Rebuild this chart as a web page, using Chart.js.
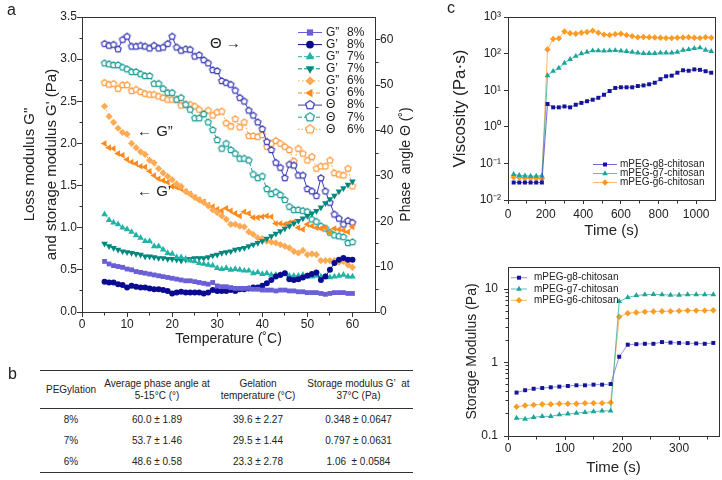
<!DOCTYPE html>
<html>
<head>
<meta charset="utf-8">
<script src="https://cdn.jsdelivr.net/npm/chart.js@4.4.1/dist/chart.umd.min.js"></script>
<style>
  html, body { margin: 0; padding: 0; background: #fff; }
  #page { position: relative; width: 722px; height: 480px; overflow: hidden;
          font-family: "Liberation Sans", Arial, sans-serif; color: #222; }
  #page canvas { position: absolute; }
  .tag { position: absolute; font-size: 16px; line-height: 16px; }
  #tbl { position: absolute; left: 40px; top: 370px; width: 373px;
         border-collapse: collapse; font-size: 10px; }
  #tbl th { font-weight: normal; height: 37px; line-height: 12px; padding: 0;
            border-top: 1.5px solid #333; border-bottom: 1px solid #333; }
  #tbl td { height: 21px; padding: 0; text-align: center; }
  #tbl tr:last-child td { border-bottom: 1.5px solid #333; }
</style>
</head>
<body>
<div id="page">
  <canvas id="chartA" width="440" height="352" style="left:0;top:0"></canvas>
  <canvas id="chartVisc" width="282" height="240" style="left:440px;top:0"></canvas>
  <canvas id="chartMod" width="282" height="240" style="left:440px;top:240px"></canvas>
  <div class="tag" style="left:7px;top:2px">a</div>
  <div class="tag" style="left:8px;top:366px">b</div>
  <div class="tag" style="left:447px;top:0">c</div>
  <table id="tbl"></table>
</div>
<script>
// ---- panel a: temperature sweep ----
var tempC = [5, 6, 7, 8, 9, 10, 11, 12, 13, 14, 15, 16, 17, 18, 19, 20, 21, 22, 23, 24,
  25, 26, 27, 28, 29, 30, 31, 32, 33, 34, 35, 36, 37, 38, 39, 40, 41, 42, 43, 44,
  45, 46, 47, 48, 49, 50, 51, 52, 53, 54, 55, 56, 57, 58, 59, 60];

var gLoss8 = [0.60, 0.57, 0.55, 0.54, 0.53, 0.51, 0.50, 0.48, 0.47, 0.46, 0.45, 0.44, 0.43, 0.42, 0.41, 0.40, 0.39, 0.38, 0.37, 0.37,
  0.36, 0.35, 0.34, 0.33, 0.35, 0.31, 0.30, 0.30, 0.29, 0.28, 0.28, 0.28, 0.28, 0.27, 0.27, 0.26, 0.26, 0.26, 0.25, 0.26,
  0.26, 0.25, 0.25, 0.24, 0.24, 0.23, 0.23, 0.23, 0.22, 0.21, 0.22, 0.23, 0.23, 0.23, 0.22, 0.22];
var gStor8 = [0.36, 0.35, 0.35, 0.33, 0.32, 0.29, 0.31, 0.30, 0.29, 0.29, 0.28, 0.27, 0.27, 0.26, 0.25, 0.22, 0.23, 0.24, 0.23, 0.23,
  0.23, 0.23, 0.22, 0.23, 0.26, 0.25, 0.25, 0.25, 0.26, 0.25, 0.27, 0.27, 0.28, 0.29, 0.29, 0.31, 0.34, 0.38, 0.42, 0.44,
  0.46, 0.39, 0.38, 0.39, 0.41, 0.43, 0.45, 0.47, 0.38, 0.42, 0.50, 0.58, 0.62, 0.64, 0.62, 0.62];
var gLoss7 = [1.16, 1.09, 1.06, 1.04, 1.00, 0.98, 0.95, 0.91, 0.88, 0.84, 0.84, 0.78, 0.78, 0.74, 0.70, 0.69, 0.65, 0.65, 0.63, 0.61,
  0.60, 0.58, 0.57, 0.56, 0.55, 0.52, 0.51, 0.52, 0.50, 0.51, 0.50, 0.49, 0.49, 0.46, 0.47, 0.45, 0.46, 0.44, 0.44, 0.44,
  0.45, 0.43, 0.43, 0.43, 0.44, 0.43, 0.42, 0.43, 0.42, 0.42, 0.41, 0.42, 0.43, 0.44, 0.42, 0.42];
var gStor7 = [0.81, 0.78, 0.76, 0.74, 0.72, 0.71, 0.70, 0.69, 0.68, 0.66, 0.66, 0.65, 0.64, 0.64, 0.63, 0.63, 0.62, 0.61, 0.62, 0.63,
  0.64, 0.64, 0.64, 0.65, 0.67, 0.68, 0.70, 0.71, 0.72, 0.74, 0.75, 0.76, 0.78, 0.80, 0.82, 0.84, 0.87, 0.90, 0.93, 0.96,
  0.99, 1.02, 1.05, 1.08, 1.11, 1.14, 1.17, 1.20, 1.24, 1.29, 1.34, 1.38, 1.43, 1.47, 1.51, 1.55];
var gLoss6 = [2.44, 2.32, 2.25, 2.18, 2.13, 2.11, 2.00, 1.95, 1.90, 1.87, 1.80, 1.77, 1.70, 1.65, 1.61, 1.57, 1.52, 1.49, 1.43, 1.40,
  1.36, 1.33, 1.30, 1.26, 1.21, 1.18, 1.14, 1.10, 1.04, 1.04, 1.02, 1.01, 0.95, 0.92, 0.88, 0.87, 0.84, 0.83, 0.82, 0.80,
  0.78, 0.76, 0.72, 0.70, 0.73, 0.68, 0.69, 0.68, 0.61, 0.61, 0.61, 0.61, 0.59, 0.60, 0.56, 0.53];
var gStor6 = [2.00, 1.95, 1.94, 1.88, 1.86, 1.81, 1.78, 1.76, 1.73, 1.72, 1.67, 1.62, 1.58, 1.56, 1.54, 1.49, 1.48, 1.46, 1.43, 1.40,
  1.36, 1.33, 1.31, 1.27, 1.25, 1.22, 1.20, 1.23, 1.20, 1.17, 1.14, 1.19, 1.17, 1.12, 1.12, 1.13, 1.14, 1.13, 1.05, 1.05,
  1.04, 1.06, 1.07, 1.00, 0.98, 1.04, 1.02, 1.00, 0.99, 1.00, 0.94, 0.99, 0.98, 0.97, 0.95, 1.01];

var phase8 = [59.1, 58.7, 58.9, 57.9, 60.0, 60.7, 58.5, 58.5, 58.7, 58.5, 58.1, 58.7, 58.1, 58.3, 59.1, 60.7, 58.3, 57.6, 57.9, 57.8,
  56.3, 56.6, 55.5, 54.8, 53.3, 53.1, 50.9, 50.5, 50.1, 48.8, 47.2, 46.4, 44.4, 43.3, 41.8, 40.3, 37.5, 35.7, 32.9, 31.8,
  29.5, 32.5, 32.3, 30.1, 30.1, 27.1, 26.6, 25.6, 29.5, 26.6, 24.1, 21.5, 20.6, 19.3, 20.1, 19.7];
var phase7 = [54.8, 54.6, 54.4, 54.4, 53.9, 53.5, 52.9, 52.9, 52.4, 52.0, 52.0, 50.3, 50.3, 49.2, 48.3, 48.3, 46.8, 47.2, 45.7, 44.6,
  42.7, 42.7, 43.6, 41.8, 40.1, 37.9, 36.0, 37.1, 35.7, 34.9, 33.8, 33.8, 33.4, 30.3, 29.5, 29.9, 27.1, 26.0, 26.4, 25.8,
  24.7, 23.2, 22.5, 22.5, 22.3, 22.1, 20.4, 19.9, 18.9, 18.4, 17.5, 16.9, 16.7, 16.5, 15.2, 15.4];
var phase6 = [50.5, 50.1, 50.3, 49.2, 50.0, 50.0, 48.7, 49.0, 48.5, 48.1, 47.9, 47.9, 47.5, 47.2, 46.8, 46.8, 46.8, 45.5, 45.7, 45.7,
  45.3, 44.6, 43.6, 44.4, 43.3, 44.0, 44.2, 41.6, 40.9, 42.5, 40.7, 41.8, 38.8, 38.8, 38.6, 39.0, 36.4, 37.1, 37.7, 37.1,
  36.4, 35.7, 33.2, 36.0, 34.9, 33.4, 34.2, 31.6, 32.1, 32.1, 33.4, 30.6, 30.3, 30.1, 31.6, 27.7];

var tempTicks = [0, 10, 20, 30, 40, 50, 60];
var modTicks = [0, 0.5, 1.0, 1.5, 2.0, 2.5, 3.0, 3.5];
var phaseTicks = [0, 10, 20, 30, 40, 50, 60];

// ---- panel b: table ----
var tableHead = ['PEGylation', 'Average phase angle at<br>5-15°C (°)', 'Gelation<br>temperature (°C)', 'Storage modulus G\u2019&nbsp; at<br>37°C (Pa)'];
var tableRows = [
  ['8%', '60.0 ± 1.89', '39.6 ± 2.27', '0.348 ± 0.0647'],
  ['7%', '53.7 ± 1.46', '29.5 ± 1.44', '0.797 ± 0.0631'],
  ['6%', '48.6 ± 0.58', '23.3 ± 2.78', '1.06 &nbsp;± 0.0584']
];

// ---- panel c top: viscosity vs time ----
var viscTime = [30, 60, 90, 120, 150, 180, 210, 240, 270, 300, 330, 360, 390, 420, 450, 480, 510, 540,
  570, 600, 630, 660, 690, 720, 750, 780, 810, 840, 870, 900, 930, 960, 990, 1020, 1050, 1080];
var viscG8 = [0.030, 0.030, 0.030, 0.030, 0.030, 0.030, 4.2, 3.4, 3.4, 3.6, 3.4, 4.0, 4.5, 5.0, 5.5, 6.2, 7.5, 9.5,
  11.5, 12, 12, 12, 13, 13.5, 14.5, 16, 20, 24, 25, 30, 35, 34, 37, 36, 33, 30];
var viscG7 = [0.050, 0.047, 0.046, 0.045, 0.045, 0.046, 25, 33, 40, 55, 70, 85, 100, 110, 120, 120, 118, 120,
  122, 118, 115, 110, 105, 102, 102, 102, 105, 105, 105, 110, 125, 130, 140, 145, 125, 115];
var viscG6 = [0.042, 0.041, 0.040, 0.040, 0.039, 0.038, 130, 250, 260, 400, 360, 350, 370, 390, 420, 370, 330, 320,
  340, 350, 320, 300, 280, 285, 280, 275, 270, 265, 265, 270, 275, 280, 270, 265, 280, 270];
var viscTimeTicks = [0, 200, 400, 600, 800, 1000];
var viscTicks = [0.01, 0.1, 1, 10, 100, 1000];
var viscTickLabels = ['10\u207B\u00B2', '10\u207B\u00B9', '10\u2070', '10\u00B9', '10\u00B2', '10\u00B3'];

// ---- panel c bottom: storage modulus vs time ----
var modTime = [15, 30, 45, 60, 75, 90, 105, 120, 135, 150, 165, 180, 195, 210, 225, 240, 255, 270, 285, 300, 315, 330, 345, 360];
var modG8 = [0.39, 0.42, 0.44, 0.45, 0.46, 0.47, 0.48, 0.49, 0.49, 0.50, 0.50, 0.51, 1.2, 1.75, 1.78, 1.80, 1.80, 1.90, 1.87, 1.85, 1.84, 1.82, 1.80, 1.85];
var modG7 = [0.175, 0.170, 0.180, 0.185, 0.185, 0.195, 0.200, 0.205, 0.210, 0.215, 0.220, 0.220, 6.8, 7.7, 8.2, 8.4, 8.5, 8.4, 8.3, 8.3, 8.4, 8.4, 8.4, 8.4];
var modG6 = [0.25, 0.26, 0.265, 0.27, 0.27, 0.275, 0.275, 0.275, 0.28, 0.28, 0.28, 0.285, 4.2, 4.7, 4.8, 4.9, 4.95, 5.0, 5.0, 5.05, 5.1, 5.1, 5.1, 5.15];
var modTimeTicks = [0, 100, 200, 300];
var modLogTicks = [0.1, 1, 10];
var modLogLabels = ['0.1', '1', '10'];

var FONT = '"Liberation Sans", Arial, sans-serif';
var AXIS = '#333';
var TEXT = '#222';

function pts(xs, ys) {
  return xs.map(function (x, i) { return { x: x, y: ys[i] }; });
}

function al(p) {
  return Math.round(p - 0.5) + 0.5;
}

// open pentagon marker drawn into a small canvas
function pentagon(color, r) {
  var c = document.createElement('canvas');
  var s = 2 * Math.ceil(r + 2);
  c.width = s;
  c.height = s;
  var g = c.getContext('2d');
  g.beginPath();
  for (var k = 0; k < 5; k++) {
    var a = -Math.PI / 2 + k * 2 * Math.PI / 5;
    var px = s / 2 + r * Math.cos(a);
    var py = s / 2 + r * Math.sin(a);
    if (k === 0) g.moveTo(px, py); else g.lineTo(px, py);
  }
  g.closePath();
  g.fillStyle = '#fff';
  g.fill();
  g.lineWidth = 1.2;
  g.strokeStyle = color;
  g.stroke();
  return c;
}

function axisCommon(extra) {
  var base = {
    grid: { display: true, drawOnChartArea: false, drawTicks: true, tickLength: 5, tickColor: AXIS, color: AXIS },
    border: { display: true, color: AXIS, width: 1 },
    ticks: {
      color: TEXT, font: { family: FONT, size: 12 }, padding: 0, maxRotation: 0, autoSkip: false,
      callback: function (v) { return String(v); }
    }
  };
  Object.keys(extra).forEach(function (k) {
    if (base[k] && typeof extra[k] === 'object' && !Array.isArray(extra[k])) {
      base[k] = Object.assign({}, base[k], extra[k]);
    } else {
      base[k] = extra[k];
    }
  });
  return base;
}

function fixTicks(list) {
  return function (scale) {
    scale.ticks = list.map(function (v) { return { value: v }; });
  };
}

// frame, minor ticks, notes, side title and legend
var decor = {
  id: 'decor',
  afterDraw: function (chart, args, o) {
    var ctx = chart.ctx;
    var a = chart.chartArea;
    ctx.save();
    ctx.strokeStyle = AXIS;
    ctx.lineWidth = 1;
    var l = al(a.left), t = al(a.top), r = al(a.right), b = al(a.bottom);
    ctx.strokeRect(l, t, r - l, b - t);

    (o.minor || []).forEach(function (m) {
      var s = chart.scales[m.axis];
      m.values.forEach(function (v) {
        var p = al(s.getPixelForValue(v));
        ctx.beginPath();
        if (s.isHorizontal()) {
          ctx.moveTo(p, b); ctx.lineTo(p, b + 3);
        } else if (s.position === 'left') {
          ctx.moveTo(l, p); ctx.lineTo(l - 3, p);
        } else {
          ctx.moveTo(r, p); ctx.lineTo(r + 3, p);
        }
        ctx.stroke();
      });
    });

    ctx.fillStyle = TEXT;
    ctx.textBaseline = 'middle';
    (o.notes || []).forEach(function (n) {
      ctx.font = n.size + 'px ' + FONT;
      ctx.textAlign = 'left';
      ctx.fillText(n.text, chart.scales.x.getPixelForValue(n.x), chart.scales[n.axis].getPixelForValue(n.y));
    });

    if (o.sideTitle) {
      ctx.save();
      ctx.font = o.sideTitle.size + 'px ' + FONT;
      ctx.textAlign = 'center';
      ctx.translate(o.sideTitle.x, (a.top + a.bottom) / 2);
      ctx.rotate(-Math.PI / 2);
      ctx.fillText(o.sideTitle.text, 0, 0);
      ctx.restore();
    }

    if (o.legend) {
      var L = o.legend;
      chart.data.datasets.forEach(function (ds, i) {
        var y = L.y + i * L.dy;
        ctx.save();
        ctx.strokeStyle = ds.borderColor;
        ctx.lineWidth = ds.borderWidth;
        ctx.setLineDash(ds.borderDash || []);
        ctx.beginPath();
        ctx.moveTo(L.x, y);
        ctx.lineTo(L.x + L.line, y);
        ctx.stroke();
        ctx.setLineDash([]);
        ctx.fillStyle = ds.pointBackgroundColor;
        ctx.strokeStyle = ds.pointBorderColor;
        ctx.lineWidth = ds.pointBorderWidth;
        Chart.helpers.drawPoint(ctx, {
          pointStyle: ds.legendStyle || ds.pointStyle,
          rotation: ds.pointRotation || 0,
          radius: ds.pointRadius * L.scale,
          borderWidth: ds.pointBorderWidth
        }, L.x + L.line / 2, y);
        ctx.restore();
        ctx.fillStyle = TEXT;
        ctx.font = L.size + 'px ' + FONT;
        ctx.textAlign = 'left';
        ctx.textBaseline = 'middle';
        if (L.split) {
          var parts = ds.label.split(' ');
          ctx.fillText(parts[0], L.x + L.line + L.gap, y);
          ctx.fillText(parts[1], L.x + L.line + L.gap + L.split, y);
        } else {
          ctx.fillText(ds.label, L.x + L.line + L.gap, y);
        }
      });
    }
    ctx.restore();
  }
};

function series(label, xs, ys, axis, color, lineColor, style, radius, extra) {
  var ds = {
    label: label,
    data: pts(xs, ys),
    yAxisID: axis,
    borderColor: lineColor,
    borderWidth: 1,
    pointStyle: style,
    pointRadius: radius,
    pointHoverRadius: radius,
    pointBackgroundColor: color,
    pointBorderColor: color,
    pointBorderWidth: 0,
    tension: 0,
    fill: false
  };
  return Object.assign(ds, extra || {});
}

function baseOptions(padding, plugins) {
  return {
    responsive: false,
    animation: false,
    devicePixelRatio: 1,
    events: [],
    layout: { padding: padding, autoPadding: false },
    plugins: Object.assign({ legend: { display: false }, tooltip: { enabled: false } }, plugins)
  };
}

function drawPanelA() {
  var c8 = '#6a5fd6', c8d = '#0b0b92', c7 = '#22b3a6', c7d = '#00877e', c6 = '#ffab55', c6d = '#ff8a1c';
  var t8 = '#3a3ab8', t7 = '#1d9c97', t6 = '#ff9a3c';
  var datasets = [
    series('G\u201D 8%', tempC, gLoss8, 'y', c8, c8, 'rect', 3.4),
    series('G\u2019 8%', tempC, gStor8, 'y', c8d, c8d, 'circle', 3),
    series('G\u201D 7%', tempC, gLoss7, 'y', c7, c7, 'triangle', 3.8, { borderDash: [4, 2] }),
    series('G\u2019 7%', tempC, gStor7, 'y', c7d, c7d, 'triangle', 3.8, { borderDash: [4, 2], pointRotation: 180 }),
    series('G\u201D 6%', tempC, gLoss6, 'y', c6, c6, 'rectRot', 3.6, { borderDash: [1.5, 2.5] }),
    series('G\u2019 6%', tempC, gStor6, 'y', c6d, c6d, 'triangle', 3.8, { borderDash: [4, 2, 1, 2], pointRotation: 270 }),
    series('\u0398 8%', tempC, phase8, 'y2', t8, t8, pentagon(t8, 3.3), 3, { legendStyle: pentagon(t8, 4.6) }),
    series('\u0398 7%', tempC, phase7, 'y2', t7, t7, pentagon(t7, 3.3), 3, { borderDash: [4, 2], legendStyle: pentagon(t7, 4.6) }),
    series('\u0398 6%', tempC, phase6, 'y2', t6, t6, pentagon(t6, 3.3), 3, { borderDash: [1.5, 2], legendStyle: pentagon(t6, 4.6) })
  ];

  var opts = baseOptions({ top: 17, left: 0, right: 0, bottom: 0 }, {
    decor: {
      minor: [
        { axis: 'x', values: [5, 15, 25, 35, 45, 55] },
        { axis: 'y', values: [0.25, 0.75, 1.25, 1.75, 2.25, 2.75, 3.25] },
        { axis: 'y2', values: [5, 15, 25, 35, 45, 55] }
      ],
      notes: [
        { text: '\u0398 \u2192', x: 28.4, y: 3.18, axis: 'y', size: 15 },
        { text: '\u2190 G\u201D', x: 12.2, y: 2.14, axis: 'y', size: 15 },
        { text: '\u2190 G\u2019', x: 12.2, y: 1.43, axis: 'y', size: 15 }
      ],
      sideTitle: { text: 'Phase  angle \u0398 (\u02DA)', x: 406, size: 14 },
      legend: { x: 298, y: 32.5, dy: 12.1, line: 24, gap: 4, size: 12, scale: 1.3, split: 21 }
    }
  });
  opts.scales = {
    x: axisCommon({
      type: 'linear', min: 0, max: 65,
      afterBuildTicks: fixTicks(tempTicks),
      afterFit: function (s) { s.height = 40; },
      title: { display: true, text: 'Temperature (\u02DAC)', color: TEXT, font: { family: FONT, size: 14 }, padding: { top: 0, bottom: 4 } }
    }),
    y: axisCommon({
      type: 'linear', position: 'left', min: 0, max: 3.5,
      afterBuildTicks: fixTicks(modTicks),
      afterFit: function (s) { s.width = 82; },
      ticks: { callback: function (v) { return Number(v).toFixed(1); } },
      title: {
        display: true, color: TEXT,
        text: ['Loss modulus G"', 'and storage modulus G\' (Pa)'],
        font: { family: FONT, size: 15, lineHeight: 1.47 }, padding: { top: 19, bottom: 0 }
      }
    }),
    y2: axisCommon({
      type: 'linear', position: 'right', min: 0, max: 65,
      afterBuildTicks: fixTicks(phaseTicks),
      afterFit: function (s) { s.width = 65; }
    })
  };

  new Chart(document.getElementById('chartA'), {
    type: 'line',
    data: { datasets: datasets },
    options: opts,
    plugins: [decor]
  });
}

function drawViscosity() {
  var datasets = [
    series('mPEG-g8-chitosan', viscTime, viscG8, 'y', '#14149a', 'rgba(60,60,200,0.75)', 'rect', 2.8),
    series('mPEG-g7-chitosan', viscTime, viscG7, 'y', '#1fa39a', 'rgba(40,170,160,0.75)', 'triangle', 3.3),
    series('mPEG-g6-chitosan', viscTime, viscG6, 'y', '#ff9a22', 'rgba(255,165,70,0.8)', 'rectRot', 3.2)
  ];
  var opts = baseOptions({ top: 17, left: 0, right: 7, bottom: 0 }, {
    decor: {
      minor: [{ axis: 'x', values: [100, 300, 500, 700, 900] }],
      legend: { x: 153, y: 164.5, dy: 9, line: 24, gap: 3, size: 10, scale: 1 }
    }
  });
  opts.scales = {
    x: axisCommon({
      type: 'linear', min: 0, max: 1100,
      grid: { tickLength: 4 },
      ticks: { padding: 3 },
      afterBuildTicks: fixTicks(viscTimeTicks),
      afterFit: function (s) { s.height = 40; },
      title: { display: true, text: 'Time (s)', color: TEXT, font: { family: FONT, size: 15 }, padding: { top: 0, bottom: 0 } }
    }),
    y: axisCommon({
      type: 'logarithmic', position: 'left', min: 0.01, max: 1000,
      grid: { tickLength: 4 },
      ticks: {
        padding: 3,
        callback: function (v) { return viscTickLabels[viscTicks.indexOf(v)]; }
      },
      afterBuildTicks: fixTicks(viscTicks),
      afterFit: function (s) { s.width = 68; },
      title: { display: true, text: 'Viscosity (Pa\u00B7s)', color: TEXT, font: { family: FONT, size: 17 }, padding: { top: 10, bottom: 0 } }
    })
  };
  new Chart(document.getElementById('chartVisc'), {
    type: 'line',
    data: { datasets: datasets },
    options: opts,
    plugins: [decor]
  });
}

function drawModulus() {
  var datasets = [
    series('mPEG-g8-chitosan', modTime, modG8, 'y', '#14149a', 'rgba(110,110,220,0.75)', 'rect', 2.8),
    series('mPEG-g7-chitosan', modTime, modG7, 'y', '#1fa39a', 'rgba(40,170,160,0.75)', 'triangle', 3.3),
    series('mPEG-g6-chitosan', modTime, modG6, 'y', '#ff9a22', 'rgba(255,165,70,0.8)', 'rectRot', 3.2)
  ];
  var opts = baseOptions({ top: 27, left: 0, right: 3, bottom: 0 }, {
    decor: {
      minor: [
        { axis: 'x', values: [50, 150, 250, 350] },
        { axis: 'y', values: [0.2, 0.3, 0.4, 0.5, 0.6, 0.7, 0.8, 0.9, 2, 3, 4, 5, 6, 7, 8, 9] }
      ],
      legend: { x: 71, y: 37.7, dy: 11.3, line: 16, gap: 7, size: 10, scale: 1 }
    }
  });
  opts.scales = {
    x: axisCommon({
      type: 'linear', min: 0, max: 370,
      grid: { tickLength: 4 },
      ticks: { padding: 1 },
      afterBuildTicks: fixTicks(modTimeTicks),
      afterFit: function (s) { s.height = 44; },
      title: { display: true, text: 'Time (s)', color: TEXT, font: { family: FONT, size: 15 }, padding: { top: 0, bottom: 3 } }
    }),
    y: axisCommon({
      type: 'logarithmic', position: 'left', min: 0.1, max: 20,
      grid: { tickLength: 4 },
      ticks: {
        padding: 6,
        callback: function (v) { return modLogLabels[modLogTicks.indexOf(v)]; }
      },
      afterBuildTicks: fixTicks(modLogTicks),
      afterFit: function (s) { s.width = 68; },
      title: { display: true, text: 'Storage Modulus (Pa)', color: TEXT, font: { family: FONT, size: 14 }, padding: { top: 24, bottom: 0 } }
    })
  };
  new Chart(document.getElementById('chartMod'), {
    type: 'line',
    data: { datasets: datasets },
    options: opts,
    plugins: [decor]
  });
}

function buildTable() {
  var widths = [62, 110, 92, 109];
  var html = '<colgroup>' + widths.map(function (w) { return '<col style="width:' + w + 'px">'; }).join('') + '</colgroup>';
  html += '<tr>' + tableHead.map(function (h) { return '<th>' + h + '</th>'; }).join('') + '</tr>';
  tableRows.forEach(function (row) {
    html += '<tr>' + row.map(function (c) { return '<td>' + c + '</td>'; }).join('') + '</tr>';
  });
  document.getElementById('tbl').innerHTML = html;
}

buildTable();
drawPanelA();
drawViscosity();
drawModulus();
</script>
</body>
</html>
